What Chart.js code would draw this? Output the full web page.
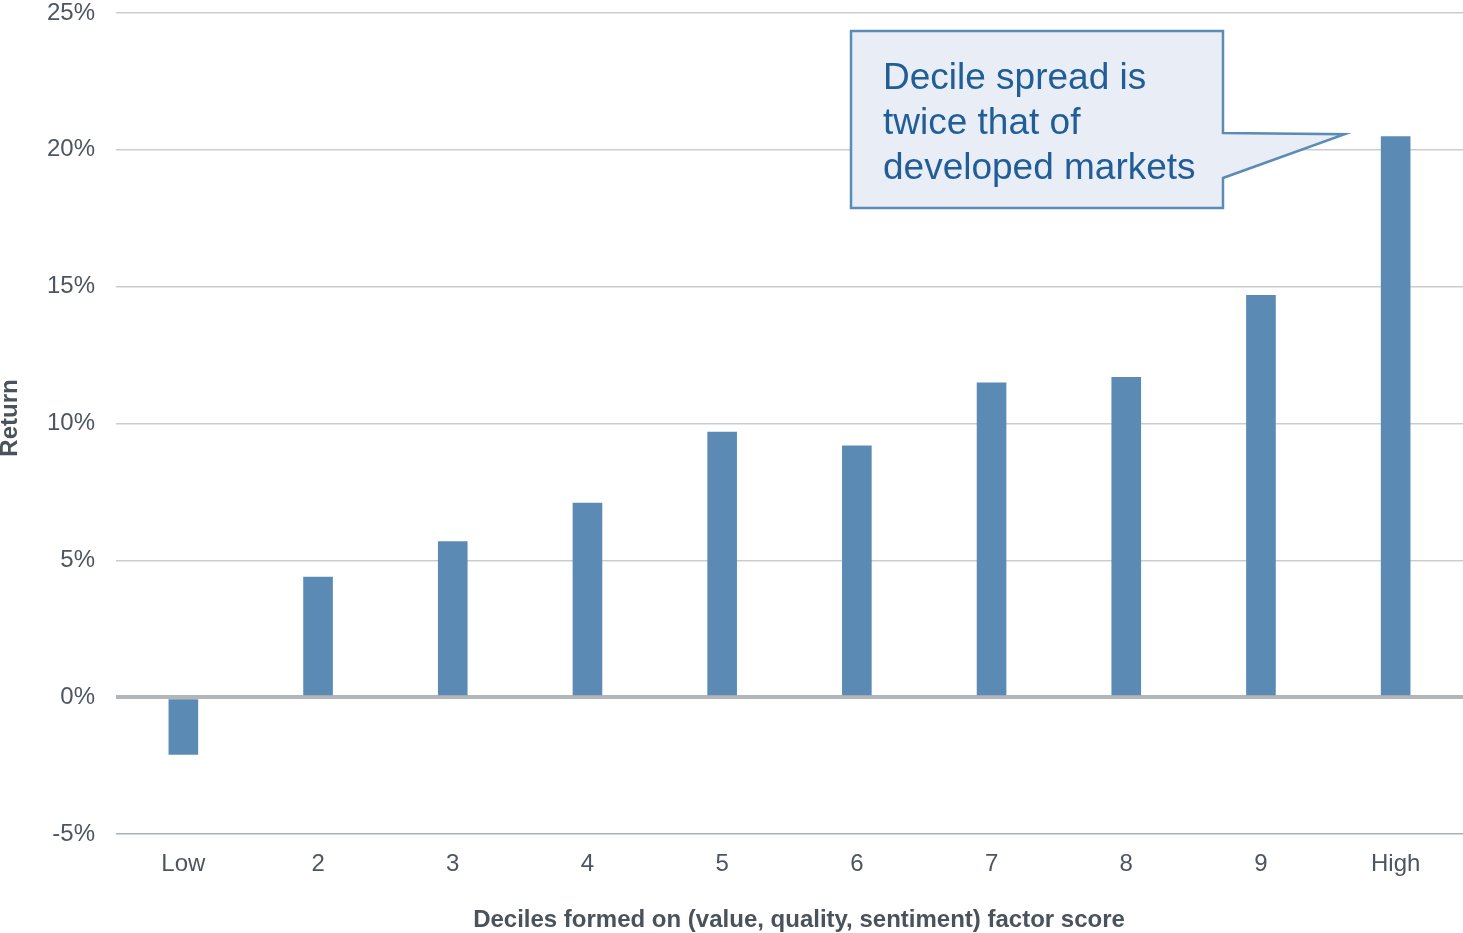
<!DOCTYPE html>
<html>
<head>
<meta charset="utf-8">
<script src="https://cdn.jsdelivr.net/npm/chart.js@4/dist/chart.umd.min.js"></script>
<style>
  html, body { margin: 0; padding: 0; background: #fff; }
  #wrap { width: 1463px; height: 933px; position: relative; }
</style>
</head>
<body>
<div id="wrap"><canvas id="c" width="1463" height="933"></canvas></div>
<script>
// Decile categories and annual return per decile (%)
const deciles = ['Low', '2', '3', '4', '5', '6', '7', '8', '9', 'High'];
const returns = [-2.1, 4.4, 5.7, 7.1, 9.7, 9.2, 11.5, 11.7, 14.7, 20.5];
const yTicks = [-5, 0, 5, 10, 15, 20, 25];
const calloutLines = ['Decile spread is', 'twice that of', 'developed markets'];
const xTitle = 'Deciles formed on (value, quality, sentiment) factor score';
const yTitle = 'Return';

const FONT = '"Liberation Sans", Arial, Helvetica, sans-serif';
const TEXT = '#4d5660';
const TITLE = '#4a525b';

// Axis titles, placed in the margins reserved by the scales
const axisTitlePlugin = {
  id: 'axisTitles',
  afterDraw(chart) {
    const ctx = chart.ctx;
    ctx.save();
    ctx.fillStyle = TITLE;
    ctx.font = 'bold 24px ' + FONT;
    ctx.textAlign = 'center';
    ctx.textBaseline = 'middle';
    ctx.fillText(xTitle, 799, 920);
    ctx.translate(10, 418);
    ctx.rotate(-Math.PI / 2);
    ctx.fillText(yTitle, 0, 0);
    ctx.restore();
  }
};

// Speech-bubble callout pointing at the top decile bar
const calloutPlugin = {
  id: 'callout',
  afterDatasetsDraw(chart) {
    const ctx = chart.ctx;
    const x = chart.scales.x, y = chart.scales.y;
    const tipX = x.getPixelForValue(deciles.length - 1) - 51;
    const tipY = y.getPixelForValue(returns[returns.length - 1]) - 2;
    const L = 851, T = 31, R = 1223, B = 208;
    ctx.save();
    ctx.beginPath();
    ctx.moveTo(L, T);
    ctx.lineTo(R, T);
    ctx.lineTo(R, 133);
    ctx.lineTo(tipX, tipY);
    ctx.lineTo(R, 178);
    ctx.lineTo(R, B);
    ctx.lineTo(L, B);
    ctx.closePath();
    ctx.fillStyle = '#e9edf5';
    ctx.fill();
    ctx.lineWidth = 2.5;
    ctx.strokeStyle = '#5b8cb6';
    ctx.lineJoin = 'miter';
    ctx.stroke();
    ctx.fillStyle = '#215d97';
    ctx.font = '37px ' + FONT;
    ctx.textBaseline = 'alphabetic';
    ctx.textAlign = 'left';
    calloutLines.forEach((t, i) => ctx.fillText(t, 883, 89 + i * 45));
    ctx.restore();
  }
};

new Chart(document.getElementById('c'), {
  type: 'bar',
  data: {
    labels: deciles,
    datasets: [{
      data: returns,
      backgroundColor: '#5b8bb4',
      borderWidth: 0,
      barPercentage: 0.22,
      categoryPercentage: 1.0
    }]
  },
  options: {
    responsive: false,
    animation: false,
    devicePixelRatio: 1,
    layout: { padding: { top: 13, right: -3, left: 0, bottom: 0 } },
    plugins: { legend: { display: false }, tooltip: { enabled: false } },
    scales: {
      x: {
        grid: { display: false, drawTicks: false },
        border: { display: false },
        ticks: { color: TEXT, font: { family: FONT, size: 24 }, padding: 16 },
        title: { display: false },
        afterFit(s) { s.height = 99; s.paddingLeft = 0; s.paddingRight = 0; }
      },
      y: {
        min: -5, max: 25,
        afterBuildTicks(s) { s.ticks = yTicks.map(v => ({ value: v })); },
        grid: {
          drawTicks: false,
          color: c => c.tick.value === 0 ? '#b3b6b9' : (c.tick.value === -5 ? '#a7b1bc' : '#cacdd0'),
          lineWidth: c => c.tick.value === 0 ? 4 : 1.5
        },
        border: { display: false },
        ticks: {
          color: TEXT,
          font: { family: FONT, size: 24 },
          padding: 21,
          callback: v => v + '%'
        },
        title: { display: false },
        afterFit(s) { s.width = 116; s.paddingTop = 0; s.paddingBottom = 0; }
      }
    }
  },
  plugins: [calloutPlugin, axisTitlePlugin]
});
</script>
</body>
</html>
